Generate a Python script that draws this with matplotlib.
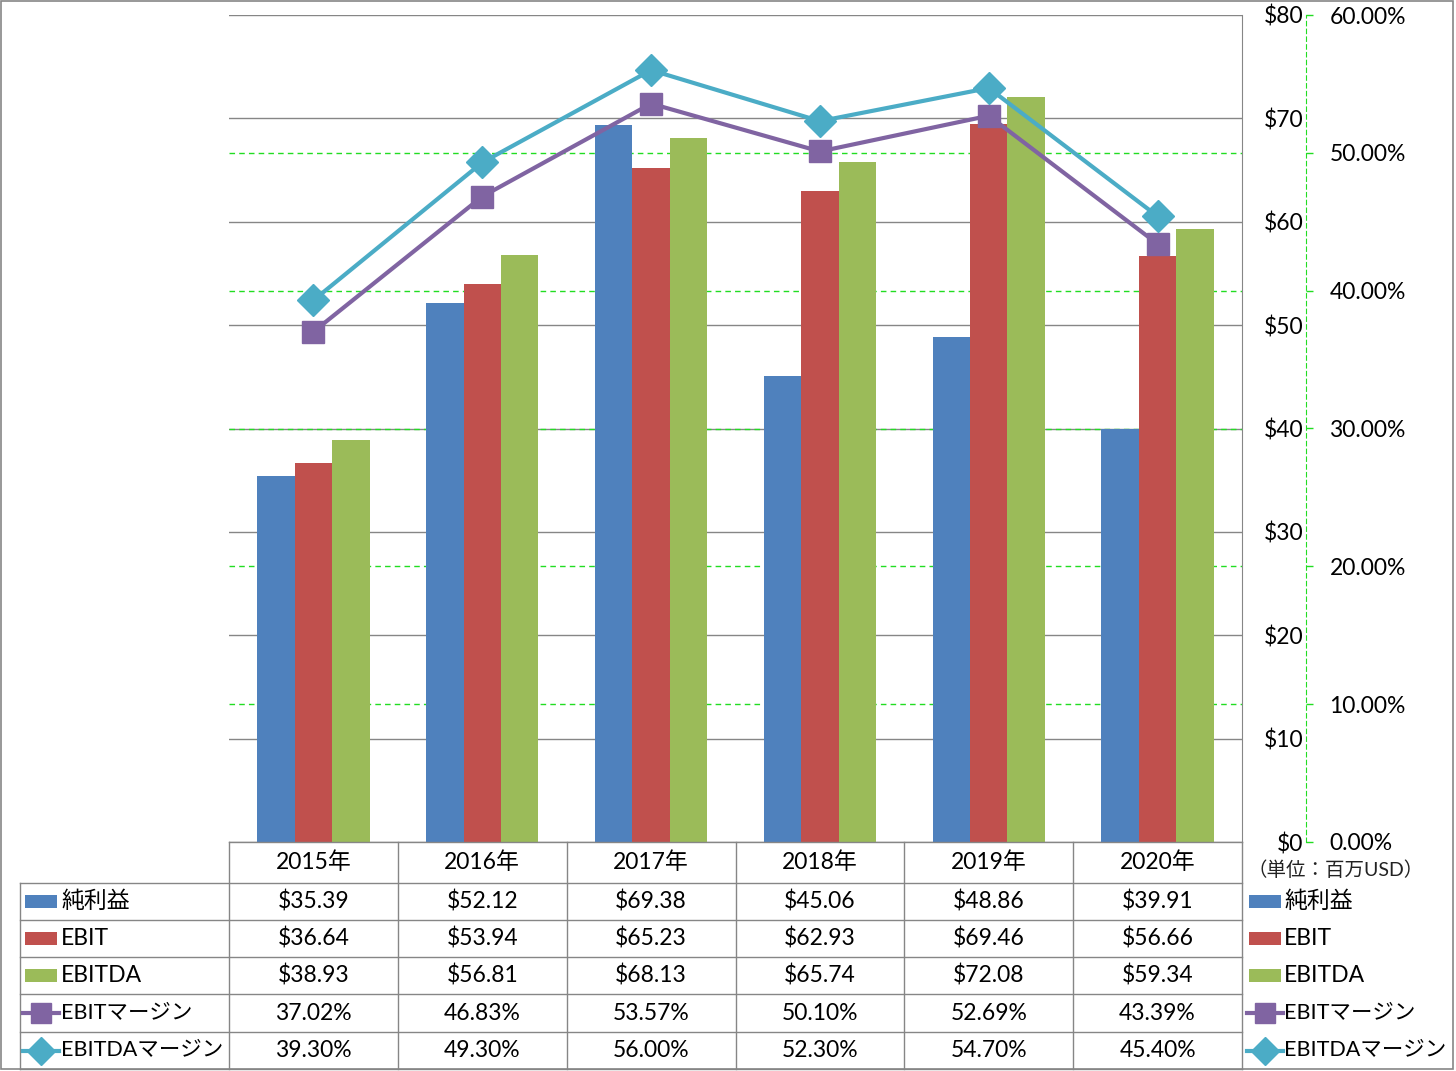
import numpy as np
import matplotlib
matplotlib.use("Agg")
import matplotlib.pyplot as plt
from matplotlib.patches import Rectangle
from matplotlib.lines import Line2D

plt.rcParams['font.family'] = ['Lato', 'Noto Sans CJK JP', 'DejaVu Sans']

# data
years = ["2015年", "2016年", "2017年", "2018年", "2019年", "2020年"]
net_income = [35.39, 52.12, 69.38, 45.06, 48.86, 39.91]
ebit = [36.64, 53.94, 65.23, 62.93, 69.46, 56.66]
ebitda = [38.93, 56.81, 68.13, 65.74, 72.08, 59.34]
ebit_margin = [37.02, 46.83, 53.57, 50.10, 52.69, 43.39]
ebitda_margin = [39.30, 49.30, 56.00, 52.30, 54.70, 45.40]

names = ["純利益", "EBIT", "EBITDA", "EBITマージン", "EBITDAマージン"]
colors = ["#4F81BD", "#C0504D", "#9BBB59", "#8064A2", "#4BACC6"]

W, H = 1456, 1071
fig = plt.figure(figsize=(W / 100, H / 100), dpi=100)

# plot area in pixels
left, right, top, bottom = 229, 1242, 15, 842
ax = fig.add_axes([left / W, 1 - bottom / H, (right - left) / W, (bottom - top) / H])
ax2 = ax.twinx()

x = np.arange(len(years))
bw = 0.222
for k, vals in enumerate([net_income, ebit, ebitda]):
    ax.bar(x + (k - 1) * bw, vals, width=bw, color=colors[k], zorder=3)

ax.set_xlim(-0.5, len(years) - 0.5)
ax.set_ylim(0, 80)
ax.set_yticks(np.arange(0, 81, 10))
ax.set_yticklabels([f"${v:.0f}" for v in np.arange(0, 81, 10)])
ax.yaxis.grid(True, color="#868686", lw=1.0, zorder=0)
ax.set_axisbelow(True)
ax.set_xticks([])
for s in ["top", "left", "bottom"]:
    ax.spines[s].set_visible(False)
ax.spines["right"].set_color("#868686")
ax.yaxis.tick_right()
ax.tick_params(axis="y", length=0, pad=44, labelsize=16.5)
for lab in ax.get_yticklabels():
    lab.set_horizontalalignment("right")

ax2.set_ylim(0, 60)
ax2.set_yticks(np.arange(0, 61, 10))
ax2.set_yticklabels([f"{v:.2f}%" for v in np.arange(0, 61, 10)])
for s in ["top", "left", "bottom"]:
    ax2.spines[s].set_visible(False)
ax2.spines["right"].set_position(("outward", 46))
ax2.spines["right"].set_color("#22DD22")
ax2.spines["right"].set_linestyle((0, (4, 3)))
ax2.tick_params(axis="y", length=5, width=1, color="#22DD22", pad=12, labelsize=16.5)

ax.set_zorder(1)
ax2.set_zorder(2)
ax2.patch.set_visible(False)

# percent gridlines drawn on ax so they stay behind the bars
for v in np.arange(10, 60, 10):
    ax.axhline(v * 80 / 60, color="#22DD22", lw=1.0, ls=(0, (4, 3)), zorder=1)

ax2.plot(x, ebit_margin, color=colors[3], lw=3, marker="s", ms=16, zorder=4)
ax2.plot(x, ebitda_margin, color=colors[4], lw=3, marker="D", ms=16, zorder=5)

# table / legend canvas in pixel units
cv = fig.add_axes([0, 0, 1, 1], zorder=3)
cv.set_xlim(0, W)
cv.set_ylim(H, 0)
cv.axis("off")
cv.patch.set_visible(False)

gray = "#868686"
col_edges = np.linspace(left, right, len(years) + 1)
row_edges = [842, 883, 920, 957, 994, 1032, 1069]

cv.plot([left, left], [bottom, row_edges[-1]], color=gray, lw=1)
cv.plot([right, right], [bottom, row_edges[-1]], color=gray, lw=1)
cv.plot([20, 20], [row_edges[1], row_edges[-1]], color=gray, lw=1)
for c in col_edges[1:-1]:
    cv.plot([c, c], [bottom, row_edges[-1]], color=gray, lw=1)
cv.plot([left, right], [bottom, bottom], color=gray, lw=1)
for r in row_edges[1:]:
    cv.plot([20, right], [r, r], color=gray, lw=1)

# outer chart border
cv.add_patch(Rectangle((0.5, 0.5), W - 3.5, H - 2.5, fill=False, ec=gray, lw=1.2))

centers = (col_edges[:-1] + col_edges[1:]) / 2
hdr_y = (row_edges[0] + row_edges[1]) / 2
for cx, yr in zip(centers, years):
    cv.text(cx, hdr_y, yr, ha="center", va="center", fontsize=16.5)

series = [net_income, ebit, ebitda, ebit_margin, ebitda_margin]
fmt = ["${:.2f}", "${:.2f}", "${:.2f}", "{:.2f}%", "{:.2f}%"]
markers = [None, None, None, "s", "D"]
name_size = [16.5, 16.5, 16.5, 15.5, 15.5]


def legend_key(x0, yc, k):
    if markers[k] is None:
        cv.add_patch(Rectangle((x0 + 2, yc - 6.5), 32, 13, color=colors[k], lw=0))
    else:
        cv.add_line(Line2D([x0, x0 + 36], [yc, yc], color=colors[k], lw=3))
        cv.add_line(Line2D([x0 + 18], [yc], color=colors[k], marker=markers[k], ms=14))


for k in range(len(series)):
    yc = (row_edges[k + 1] + row_edges[k + 2]) / 2
    for cx, v in zip(centers, series[k]):
        cv.text(cx, yc, fmt[k].format(v), ha="center", va="center", fontsize=16.5)
    legend_key(23, yc, k)
    cv.text(61, yc, names[k], ha="left", va="center", fontsize=name_size[k])
    legend_key(1247, yc, k)
    cv.text(1284, yc, names[k], ha="left", va="center", fontsize=name_size[k])

cv.text(1336, 870, "（単位：百万USD）", ha="center", va="center", fontsize=14, color="#222222")

fig.savefig("out.png", dpi=100)
